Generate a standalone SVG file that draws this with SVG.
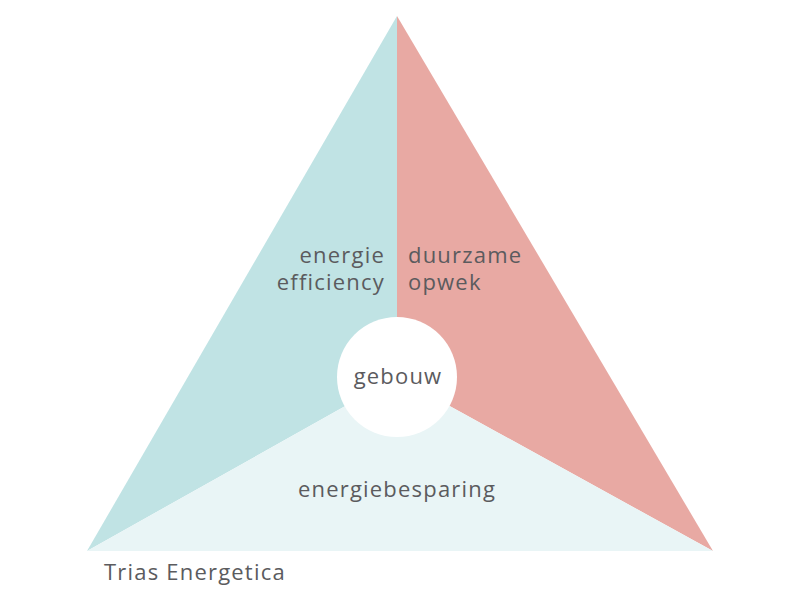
<svg xmlns="http://www.w3.org/2000/svg" width="800" height="600" viewBox="0 0 800 600">
<style>
text{font-family:"Open Sans","Liberation Sans",sans-serif;fill:#5b5b5e;font-size:22px;letter-spacing:1.2px}
.m{text-anchor:middle}.e{text-anchor:end}
</style>
<rect width="800" height="600" fill="#ffffff"/>
<g id="energie-efficiency">
<polygon points="397,16 87,551 397,377" fill="#c0e3e4"/>
<text class="e" x="385" y="263">energie</text>
<text class="e" x="385" y="290">efficiency</text>
</g>
<g id="duurzame-opwek">
<polygon points="397,16 713,551 397,377" fill="#e8a9a3"/>
<text x="408" y="263">duurzame</text>
<text x="408" y="290">opwek</text>
</g>
<g id="energiebesparing">
<polygon points="87,551 713,551 397,377" fill="#e9f5f6"/>
<text class="m" x="397" y="497">energiebesparing</text>
</g>
<g id="gebouw">
<circle cx="397" cy="377" r="60" fill="#ffffff"/>
<text class="m" x="398" y="384">gebouw</text>
</g>
<g id="connectors"></g>
<text id="title" x="104" y="580">Trias Energetica</text>
</svg>
